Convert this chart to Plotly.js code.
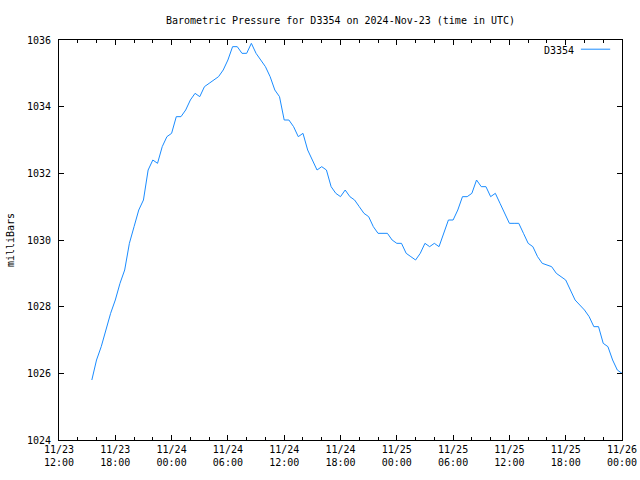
<!DOCTYPE html>
<html>
<head>
<meta charset="utf-8">
<script src="https://cdn.plot.ly/plotly-3.0.1.min.js"></script>
<style>html,body{margin:0;padding:0;background:#fff;}#chart{width:640px;height:480px;}</style>
</head>
<body>
<div id="chart"></div>
<script>
const seriesName = "D3354";
const times = [
"2024-11-23 15:30","2024-11-23 16:00","2024-11-23 16:30","2024-11-23 17:00","2024-11-23 17:30",
"2024-11-23 18:00","2024-11-23 18:30","2024-11-23 19:00","2024-11-23 19:30","2024-11-23 20:00",
"2024-11-23 20:30","2024-11-23 21:00","2024-11-23 21:30","2024-11-23 22:00","2024-11-23 22:30",
"2024-11-23 23:00","2024-11-23 23:30","2024-11-24 00:00","2024-11-24 00:30","2024-11-24 01:00",
"2024-11-24 01:30","2024-11-24 02:00","2024-11-24 02:30","2024-11-24 03:00","2024-11-24 03:30",
"2024-11-24 04:00","2024-11-24 04:30","2024-11-24 05:00","2024-11-24 05:30","2024-11-24 06:00",
"2024-11-24 06:30","2024-11-24 07:00","2024-11-24 07:30","2024-11-24 08:00","2024-11-24 08:30",
"2024-11-24 09:00","2024-11-24 09:30","2024-11-24 10:00","2024-11-24 10:30","2024-11-24 11:00",
"2024-11-24 11:30","2024-11-24 12:00","2024-11-24 12:30","2024-11-24 13:00","2024-11-24 13:30",
"2024-11-24 14:00","2024-11-24 14:30","2024-11-24 15:00","2024-11-24 15:30","2024-11-24 16:00",
"2024-11-24 16:30","2024-11-24 17:00","2024-11-24 17:30","2024-11-24 18:00","2024-11-24 18:30",
"2024-11-24 19:00","2024-11-24 19:30","2024-11-24 20:00","2024-11-24 20:30","2024-11-24 21:00",
"2024-11-24 21:30","2024-11-24 22:00","2024-11-24 22:30","2024-11-24 23:00","2024-11-24 23:30",
"2024-11-25 00:00","2024-11-25 00:30","2024-11-25 01:00","2024-11-25 01:30","2024-11-25 02:00",
"2024-11-25 02:30","2024-11-25 03:00","2024-11-25 03:30","2024-11-25 04:00","2024-11-25 04:30",
"2024-11-25 05:00","2024-11-25 05:30","2024-11-25 06:00","2024-11-25 06:30","2024-11-25 07:00",
"2024-11-25 07:30","2024-11-25 08:00","2024-11-25 08:30","2024-11-25 09:00","2024-11-25 09:30",
"2024-11-25 10:00","2024-11-25 10:30","2024-11-25 11:00","2024-11-25 11:30","2024-11-25 12:00",
"2024-11-25 12:30","2024-11-25 13:00","2024-11-25 13:30","2024-11-25 14:00","2024-11-25 14:30",
"2024-11-25 15:00","2024-11-25 15:30","2024-11-25 16:00","2024-11-25 16:30","2024-11-25 17:00",
"2024-11-25 17:30","2024-11-25 18:00","2024-11-25 18:30","2024-11-25 19:00","2024-11-25 19:30",
"2024-11-25 20:00","2024-11-25 20:30","2024-11-25 21:00","2024-11-25 21:30","2024-11-25 22:00",
"2024-11-25 22:30","2024-11-25 23:00","2024-11-25 23:30","2024-11-26 00:00"
];
const pressure = [
1025.8,1026.4,1026.8,1027.3,1027.8,
1028.2,1028.7,1029.1,1029.9,1030.4,
1030.9,1031.2,1032.1,1032.4,1032.3,
1032.8,1033.1,1033.2,1033.7,1033.7,
1033.9,1034.2,1034.4,1034.3,1034.6,
1034.7,1034.8,1034.9,1035.1,1035.4,
1035.8,1035.8,1035.6,1035.6,1035.9,
1035.6,1035.4,1035.2,1034.9,1034.5,
1034.3,1033.6,1033.6,1033.4,1033.1,
1033.2,1032.7,1032.4,1032.1,1032.2,
1032.1,1031.6,1031.4,1031.3,1031.5,
1031.3,1031.2,1031.0,1030.8,1030.7,
1030.4,1030.2,1030.2,1030.2,1030.0,
1029.9,1029.9,1029.6,1029.5,1029.4,
1029.6,1029.9,1029.8,1029.9,1029.8,
1030.2,1030.6,1030.6,1030.9,1031.3,
1031.3,1031.4,1031.8,1031.6,1031.6,
1031.3,1031.4,1031.1,1030.8,1030.5,
1030.5,1030.5,1030.2,1029.9,1029.8,
1029.5,1029.3,1029.25,1029.2,1029.0,
1028.9,1028.8,1028.5,1028.2,1028.05,
1027.9,1027.7,1027.4,1027.4,1026.9,
1026.8,1026.4,1026.1,1026.0
];
const xTickVals = ["2024-11-23 12:00","2024-11-23 18:00","2024-11-24 00:00","2024-11-24 06:00","2024-11-24 12:00","2024-11-24 18:00","2024-11-25 00:00","2024-11-25 06:00","2024-11-25 12:00","2024-11-25 18:00","2024-11-26 00:00"];
const xTickText = ["11/23<br>12:00","11/23<br>18:00","11/24<br>00:00","11/24<br>06:00","11/24<br>12:00","11/24<br>18:00","11/25<br>00:00","11/25<br>06:00","11/25<br>12:00","11/25<br>18:00","11/26<br>00:00"];
const yTickVals = [1024,1026,1028,1030,1032,1034,1036];
const titleText = "Barometric Pressure for D3354 on 2024-Nov-23 (time in UTC)";
const yTitle = "milliBars";

const lineColor = "#1a8cff";
const font = {family: "DejaVu Sans Mono, monospace", size: 10, color: "#000"};

const trace = {
  x: times, y: pressure, type: "scatter", mode: "lines",
  line: {color: lineColor, width: 1}, name: seriesName, showlegend: false, hoverinfo: "none"
};

const layout = {
  width: 640, height: 480,
  paper_bgcolor: "#fff", plot_bgcolor: "#fff",
  margin: {l: 59, r: 18, t: 40, b: 40, pad: 0},
  font: font,
  title: {text: titleText, font: font, x: 0.532, xanchor: "center", y: 0.958, yanchor: "middle"},
  xaxis: {
    type: "date",
    range: ["2024-11-23 12:00", "2024-11-26 00:00"],
    tickmode: "array", tickvals: xTickVals, ticktext: xTickText,
    ticks: "inside", ticklen: 5, tickcolor: "#000", tickwidth: 1,
    minor: {dtick: 2*3600*1000, ticks: "inside", ticklen: 3, tickcolor: "#000", showgrid: false},
    showgrid: false, zeroline: false,
    showline: true, linecolor: "#000", linewidth: 1, mirror: "allticks",
    tickfont: font, fixedrange: true
  },
  yaxis: {
    range: [1024, 1036],
    tickmode: "array", tickvals: yTickVals,
    ticks: "inside", ticklen: 5, tickcolor: "#000", tickwidth: 1,
    showgrid: false, zeroline: false,
    showline: true, linecolor: "#000", linewidth: 1, mirror: "allticks",
    tickfont: font, ticklabelstandoff: 5,
    title: {text: yTitle, font: font, standoff: 10}
  },
  annotations: [{
    xref: "paper", yref: "paper", x: 0.918, y: 0.975, xanchor: "right", yanchor: "middle",
    text: seriesName, showarrow: false, font: font
  }],
  shapes: [{
    type: "line", xref: "paper", yref: "paper", x0: 0.927, x1: 0.979, y0: 0.977, y1: 0.977,
    line: {color: lineColor, width: 1}
  }]
};

Plotly.newPlot("chart", [trace], layout, {displayModeBar: false, staticPlot: true});
</script>
</body>
</html>
